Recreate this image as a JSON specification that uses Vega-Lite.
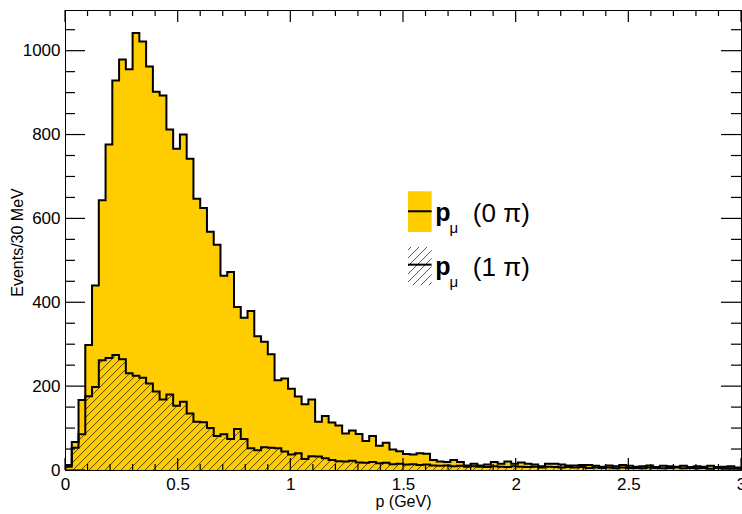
{
  "$schema": "https://vega.github.io/schema/vega-lite/v6.json",
  "width": 676,
  "height": 460,
  "autosize": {"type": "none"},
  "padding": {"left": 65, "top": 10, "right": 1, "bottom": 44},
  "background": "white",
  "config": {"font": "Liberation Sans", "view": {"stroke": "black", "strokeWidth": 1}, "axis": {"grid": false}},
  "datasets": {
    "hist": [
      {"p":0,"n0":12,"n1":8},{"p":0.03,"n0":67,"n1":53},{"p":0.06,"n0":167,"n1":85},{"p":0.09,"n0":298,"n1":176},{"p":0.12,"n0":440,"n1":198},
      {"p":0.15,"n0":643,"n1":262},{"p":0.18,"n0":776,"n1":267},{"p":0.21,"n0":929,"n1":274},{"p":0.24,"n0":979,"n1":264},{"p":0.27,"n0":956,"n1":231},
      {"p":0.3,"n0":1042,"n1":225},{"p":0.33,"n0":1022,"n1":220},{"p":0.36,"n0":962,"n1":206},{"p":0.39,"n0":902,"n1":187},{"p":0.42,"n0":893,"n1":168},
      {"p":0.45,"n0":812,"n1":180},{"p":0.48,"n0":766,"n1":153},{"p":0.51,"n0":800,"n1":163},{"p":0.54,"n0":742,"n1":135},{"p":0.57,"n0":647,"n1":115},
      {"p":0.6,"n0":625,"n1":114},{"p":0.63,"n0":568,"n1":100},{"p":0.66,"n0":537,"n1":81},{"p":0.69,"n0":463,"n1":85},{"p":0.72,"n0":472,"n1":74},
      {"p":0.75,"n0":389,"n1":98},{"p":0.78,"n0":363,"n1":74},{"p":0.81,"n0":379,"n1":52},{"p":0.84,"n0":319,"n1":47},{"p":0.87,"n0":306,"n1":54},
      {"p":0.9,"n0":276,"n1":53},{"p":0.93,"n0":214,"n1":52},{"p":0.96,"n0":218,"n1":44},{"p":0.99,"n0":194,"n1":37},{"p":1.02,"n0":175,"n1":40},
      {"p":1.05,"n0":157,"n1":26},{"p":1.08,"n0":168,"n1":33},{"p":1.11,"n0":115,"n1":32},{"p":1.14,"n0":129,"n1":28},{"p":1.17,"n0":113,"n1":24},
      {"p":1.2,"n0":106,"n1":21},{"p":1.23,"n0":87,"n1":20},{"p":1.26,"n0":94,"n1":22},{"p":1.29,"n0":86,"n1":18},{"p":1.32,"n0":69,"n1":17},
      {"p":1.35,"n0":81,"n1":19},{"p":1.38,"n0":58,"n1":16},{"p":1.41,"n0":65,"n1":17},{"p":1.44,"n0":49,"n1":14},{"p":1.47,"n0":45,"n1":15},
      {"p":1.5,"n0":38,"n1":13},{"p":1.53,"n0":37,"n1":14},{"p":1.56,"n0":40,"n1":12},{"p":1.59,"n0":39,"n1":13},{"p":1.62,"n0":24,"n1":11},
      {"p":1.65,"n0":20,"n1":10},{"p":1.68,"n0":19,"n1":11},{"p":1.71,"n0":24,"n1":9},{"p":1.74,"n0":19,"n1":10},{"p":1.77,"n0":11,"n1":8},
      {"p":1.8,"n0":15,"n1":9},{"p":1.83,"n0":11,"n1":8},{"p":1.86,"n0":13,"n1":7},{"p":1.89,"n0":19,"n1":9},{"p":1.92,"n0":15,"n1":8},
      {"p":1.95,"n0":20,"n1":7},{"p":1.98,"n0":15,"n1":9},{"p":2.01,"n0":18,"n1":8},{"p":2.04,"n0":15,"n1":7},{"p":2.07,"n0":13,"n1":8},
      {"p":2.1,"n0":9,"n1":6},{"p":2.13,"n0":15,"n1":8},{"p":2.16,"n0":15,"n1":7},{"p":2.19,"n0":13,"n1":6},{"p":2.22,"n0":11,"n1":7},
      {"p":2.25,"n0":11,"n1":6},{"p":2.28,"n0":12,"n1":7},{"p":2.31,"n0":12,"n1":5},{"p":2.34,"n0":10,"n1":6},{"p":2.37,"n0":8,"n1":5},
      {"p":2.4,"n0":11,"n1":6},{"p":2.43,"n0":9,"n1":4},{"p":2.46,"n0":12,"n1":6},{"p":2.49,"n0":10,"n1":5},{"p":2.52,"n0":8,"n1":5},
      {"p":2.55,"n0":9,"n1":4},{"p":2.58,"n0":11,"n1":6},{"p":2.61,"n0":7,"n1":5},{"p":2.64,"n0":10,"n1":4},{"p":2.67,"n0":9,"n1":5},
      {"p":2.7,"n0":8,"n1":6},{"p":2.73,"n0":10,"n1":4},{"p":2.76,"n0":7,"n1":5},{"p":2.79,"n0":9,"n1":4},{"p":2.82,"n0":8,"n1":5},
      {"p":2.85,"n0":10,"n1":3},{"p":2.88,"n0":7,"n1":5},{"p":2.91,"n0":8,"n1":4},{"p":2.94,"n0":9,"n1":4},{"p":2.97,"n0":6,"n1":4},
      {"p":3.0,"n0":6,"n1":4}
    ],
    "xmaj": [{"v":0},{"v":0.5},{"v":1},{"v":1.5},{"v":2},{"v":2.5},{"v":3}],
    "xmin": [{"v":0.1},{"v":0.2},{"v":0.3},{"v":0.4},{"v":0.6},{"v":0.7},{"v":0.8},{"v":0.9},{"v":1.1},{"v":1.2},{"v":1.3},{"v":1.4},{"v":1.6},{"v":1.7},{"v":1.8},{"v":1.9},{"v":2.1},{"v":2.2},{"v":2.3},{"v":2.4},{"v":2.6},{"v":2.7},{"v":2.8},{"v":2.9}],
    "ymaj": [{"v":0},{"v":200},{"v":400},{"v":600},{"v":800},{"v":1000}],
    "ymin": [{"v":50},{"v":100},{"v":150},{"v":250},{"v":300},{"v":350},{"v":450},{"v":500},{"v":550},{"v":650},{"v":700},{"v":750},{"v":850},{"v":900},{"v":950},{"v":1050}]
  },
  "data": {"name": "hist"},
  "layer": [
    {
      "mark": {"type": "area", "interpolate": "step-after", "fill": "#ffcc00"},
      "encoding": {
        "x": {"field": "p", "type": "quantitative", "scale": {"domain": [0, 3], "nice": false},
          "axis": {"orient": "bottom", "values": [0, 0.5, 1, 1.5, 2, 2.5, 3], "format": "~g", "ticks": false, "domain": true, "domainColor": "black", "domainWidth": 1,
            "labelFontSize": 17, "labelColor": "black", "labelPadding": 6, "labelFlush": false,
            "title": "p (GeV)", "titleFontSize": 16, "titleFontWeight": "normal", "titleColor": "black", "titleY": 31, "titleBaseline": "middle", "zindex": 1}},
        "y": {"field": "n0", "type": "quantitative", "scale": {"domain": [0, 1097], "nice": false},
          "axis": {"orient": "left", "values": [0, 200, 400, 600, 800, 1000], "format": "d", "ticks": false, "domain": true, "domainColor": "black", "domainWidth": 1,
            "labelFontSize": 17, "labelColor": "black", "labelPadding": 5,
            "title": "Events/30 MeV", "titleFontSize": 16, "titleFontWeight": "normal", "titleColor": "black", "titleX": -48, "titleY": 232, "titleAngle": -90, "titleBaseline": "middle", "zindex": 1}}
      }
    },
    {
      "mark": {"type": "area", "interpolate": "step-after",
        "fill": {"gradient": "linear", "x1": 0, "y1": 0, "x2": 1.1502, "y2": 0.1955, "stops": [
{"offset":0.0025,"color":"#0000"},{"offset":0.00375,"color":"#000a"},{"offset":0.005,"color":"#0000"},
{"offset":0.0125,"color":"#0000"},{"offset":0.01375,"color":"#000a"},{"offset":0.015,"color":"#0000"},
{"offset":0.0225,"color":"#0000"},{"offset":0.02375,"color":"#000a"},{"offset":0.025,"color":"#0000"},
{"offset":0.0325,"color":"#0000"},{"offset":0.03375,"color":"#000a"},{"offset":0.035,"color":"#0000"},
{"offset":0.0425,"color":"#0000"},{"offset":0.04375,"color":"#000a"},{"offset":0.045,"color":"#0000"},
{"offset":0.0525,"color":"#0000"},{"offset":0.05375,"color":"#000a"},{"offset":0.055,"color":"#0000"},
{"offset":0.0625,"color":"#0000"},{"offset":0.06375,"color":"#000a"},{"offset":0.065,"color":"#0000"},
{"offset":0.0725,"color":"#0000"},{"offset":0.07375,"color":"#000a"},{"offset":0.075,"color":"#0000"},
{"offset":0.0825,"color":"#0000"},{"offset":0.08375,"color":"#000a"},{"offset":0.085,"color":"#0000"},
{"offset":0.0925,"color":"#0000"},{"offset":0.09375,"color":"#000a"},{"offset":0.095,"color":"#0000"},
{"offset":0.1025,"color":"#0000"},{"offset":0.10375,"color":"#000a"},{"offset":0.105,"color":"#0000"},
{"offset":0.1125,"color":"#0000"},{"offset":0.11375,"color":"#000a"},{"offset":0.115,"color":"#0000"},
{"offset":0.1225,"color":"#0000"},{"offset":0.12375,"color":"#000a"},{"offset":0.125,"color":"#0000"},
{"offset":0.1325,"color":"#0000"},{"offset":0.13375,"color":"#000a"},{"offset":0.135,"color":"#0000"},
{"offset":0.1425,"color":"#0000"},{"offset":0.14375,"color":"#000a"},{"offset":0.145,"color":"#0000"},
{"offset":0.1525,"color":"#0000"},{"offset":0.15375,"color":"#000a"},{"offset":0.155,"color":"#0000"},
{"offset":0.1625,"color":"#0000"},{"offset":0.16375,"color":"#000a"},{"offset":0.165,"color":"#0000"},
{"offset":0.1725,"color":"#0000"},{"offset":0.17375,"color":"#000a"},{"offset":0.175,"color":"#0000"},
{"offset":0.1825,"color":"#0000"},{"offset":0.18375,"color":"#000a"},{"offset":0.185,"color":"#0000"},
{"offset":0.1925,"color":"#0000"},{"offset":0.19375,"color":"#000a"},{"offset":0.195,"color":"#0000"},
{"offset":0.2025,"color":"#0000"},{"offset":0.20375,"color":"#000a"},{"offset":0.205,"color":"#0000"},
{"offset":0.2125,"color":"#0000"},{"offset":0.21375,"color":"#000a"},{"offset":0.215,"color":"#0000"},
{"offset":0.2225,"color":"#0000"},{"offset":0.22375,"color":"#000a"},{"offset":0.225,"color":"#0000"},
{"offset":0.2325,"color":"#0000"},{"offset":0.23375,"color":"#000a"},{"offset":0.235,"color":"#0000"},
{"offset":0.2425,"color":"#0000"},{"offset":0.24375,"color":"#000a"},{"offset":0.245,"color":"#0000"},
{"offset":0.2525,"color":"#0000"},{"offset":0.25375,"color":"#000a"},{"offset":0.255,"color":"#0000"},
{"offset":0.2625,"color":"#0000"},{"offset":0.26375,"color":"#000a"},{"offset":0.265,"color":"#0000"},
{"offset":0.2725,"color":"#0000"},{"offset":0.27375,"color":"#000a"},{"offset":0.275,"color":"#0000"},
{"offset":0.2825,"color":"#0000"},{"offset":0.28375,"color":"#000a"},{"offset":0.285,"color":"#0000"},
{"offset":0.2925,"color":"#0000"},{"offset":0.29375,"color":"#000a"},{"offset":0.295,"color":"#0000"},
{"offset":0.3025,"color":"#0000"},{"offset":0.30375,"color":"#000a"},{"offset":0.305,"color":"#0000"},
{"offset":0.3125,"color":"#0000"},{"offset":0.31375,"color":"#000a"},{"offset":0.315,"color":"#0000"},
{"offset":0.3225,"color":"#0000"},{"offset":0.32375,"color":"#000a"},{"offset":0.325,"color":"#0000"},
{"offset":0.3325,"color":"#0000"},{"offset":0.33375,"color":"#000a"},{"offset":0.335,"color":"#0000"},
{"offset":0.3425,"color":"#0000"},{"offset":0.34375,"color":"#000a"},{"offset":0.345,"color":"#0000"},
{"offset":0.3525,"color":"#0000"},{"offset":0.35375,"color":"#000a"},{"offset":0.355,"color":"#0000"},
{"offset":0.3625,"color":"#0000"},{"offset":0.36375,"color":"#000a"},{"offset":0.365,"color":"#0000"},
{"offset":0.3725,"color":"#0000"},{"offset":0.37375,"color":"#000a"},{"offset":0.375,"color":"#0000"},
{"offset":0.3825,"color":"#0000"},{"offset":0.38375,"color":"#000a"},{"offset":0.385,"color":"#0000"},
{"offset":0.3925,"color":"#0000"},{"offset":0.39375,"color":"#000a"},{"offset":0.395,"color":"#0000"},
{"offset":0.4025,"color":"#0000"},{"offset":0.40375,"color":"#000a"},{"offset":0.405,"color":"#0000"},
{"offset":0.4125,"color":"#0000"},{"offset":0.41375,"color":"#000a"},{"offset":0.415,"color":"#0000"},
{"offset":0.4225,"color":"#0000"},{"offset":0.42375,"color":"#000a"},{"offset":0.425,"color":"#0000"},
{"offset":0.4325,"color":"#0000"},{"offset":0.43375,"color":"#000a"},{"offset":0.435,"color":"#0000"},
{"offset":0.4425,"color":"#0000"},{"offset":0.44375,"color":"#000a"},{"offset":0.445,"color":"#0000"},
{"offset":0.4525,"color":"#0000"},{"offset":0.45375,"color":"#000a"},{"offset":0.455,"color":"#0000"},
{"offset":0.4625,"color":"#0000"},{"offset":0.46375,"color":"#000a"},{"offset":0.465,"color":"#0000"},
{"offset":0.4725,"color":"#0000"},{"offset":0.47375,"color":"#000a"},{"offset":0.475,"color":"#0000"},
{"offset":0.4825,"color":"#0000"},{"offset":0.48375,"color":"#000a"},{"offset":0.485,"color":"#0000"},
{"offset":0.4925,"color":"#0000"},{"offset":0.49375,"color":"#000a"},{"offset":0.495,"color":"#0000"},
{"offset":0.5025,"color":"#0000"},{"offset":0.50375,"color":"#000a"},{"offset":0.505,"color":"#0000"},
{"offset":0.5125,"color":"#0000"},{"offset":0.51375,"color":"#000a"},{"offset":0.515,"color":"#0000"},
{"offset":0.5225,"color":"#0000"},{"offset":0.52375,"color":"#000a"},{"offset":0.525,"color":"#0000"},
{"offset":0.5325,"color":"#0000"},{"offset":0.53375,"color":"#000a"},{"offset":0.535,"color":"#0000"},
{"offset":0.5425,"color":"#0000"},{"offset":0.54375,"color":"#000a"},{"offset":0.545,"color":"#0000"},
{"offset":0.5525,"color":"#0000"},{"offset":0.55375,"color":"#000a"},{"offset":0.555,"color":"#0000"},
{"offset":0.5625,"color":"#0000"},{"offset":0.56375,"color":"#000a"},{"offset":0.565,"color":"#0000"},
{"offset":0.5725,"color":"#0000"},{"offset":0.57375,"color":"#000a"},{"offset":0.575,"color":"#0000"},
{"offset":0.5825,"color":"#0000"},{"offset":0.58375,"color":"#000a"},{"offset":0.585,"color":"#0000"},
{"offset":0.5925,"color":"#0000"},{"offset":0.59375,"color":"#000a"},{"offset":0.595,"color":"#0000"},
{"offset":0.6025,"color":"#0000"},{"offset":0.60375,"color":"#000a"},{"offset":0.605,"color":"#0000"},
{"offset":0.6125,"color":"#0000"},{"offset":0.61375,"color":"#000a"},{"offset":0.615,"color":"#0000"},
{"offset":0.6225,"color":"#0000"},{"offset":0.62375,"color":"#000a"},{"offset":0.625,"color":"#0000"},
{"offset":0.6325,"color":"#0000"},{"offset":0.63375,"color":"#000a"},{"offset":0.635,"color":"#0000"},
{"offset":0.6425,"color":"#0000"},{"offset":0.64375,"color":"#000a"},{"offset":0.645,"color":"#0000"},
{"offset":0.6525,"color":"#0000"},{"offset":0.65375,"color":"#000a"},{"offset":0.655,"color":"#0000"},
{"offset":0.6625,"color":"#0000"},{"offset":0.66375,"color":"#000a"},{"offset":0.665,"color":"#0000"},
{"offset":0.6725,"color":"#0000"},{"offset":0.67375,"color":"#000a"},{"offset":0.675,"color":"#0000"},
{"offset":0.6825,"color":"#0000"},{"offset":0.68375,"color":"#000a"},{"offset":0.685,"color":"#0000"},
{"offset":0.6925,"color":"#0000"},{"offset":0.69375,"color":"#000a"},{"offset":0.695,"color":"#0000"},
{"offset":0.7025,"color":"#0000"},{"offset":0.70375,"color":"#000a"},{"offset":0.705,"color":"#0000"},
{"offset":0.7125,"color":"#0000"},{"offset":0.71375,"color":"#000a"},{"offset":0.715,"color":"#0000"},
{"offset":0.7225,"color":"#0000"},{"offset":0.72375,"color":"#000a"},{"offset":0.725,"color":"#0000"},
{"offset":0.7325,"color":"#0000"},{"offset":0.73375,"color":"#000a"},{"offset":0.735,"color":"#0000"},
{"offset":0.7425,"color":"#0000"},{"offset":0.74375,"color":"#000a"},{"offset":0.745,"color":"#0000"},
{"offset":0.7525,"color":"#0000"},{"offset":0.75375,"color":"#000a"},{"offset":0.755,"color":"#0000"},
{"offset":0.7625,"color":"#0000"},{"offset":0.76375,"color":"#000a"},{"offset":0.765,"color":"#0000"},
{"offset":0.7725,"color":"#0000"},{"offset":0.77375,"color":"#000a"},{"offset":0.775,"color":"#0000"},
{"offset":0.7825,"color":"#0000"},{"offset":0.78375,"color":"#000a"},{"offset":0.785,"color":"#0000"},
{"offset":0.7925,"color":"#0000"},{"offset":0.79375,"color":"#000a"},{"offset":0.795,"color":"#0000"},
{"offset":0.8025,"color":"#0000"},{"offset":0.80375,"color":"#000a"},{"offset":0.805,"color":"#0000"},
{"offset":0.8125,"color":"#0000"},{"offset":0.81375,"color":"#000a"},{"offset":0.815,"color":"#0000"},
{"offset":0.8225,"color":"#0000"},{"offset":0.82375,"color":"#000a"},{"offset":0.825,"color":"#0000"},
{"offset":0.8325,"color":"#0000"},{"offset":0.83375,"color":"#000a"},{"offset":0.835,"color":"#0000"},
{"offset":0.8425,"color":"#0000"},{"offset":0.84375,"color":"#000a"},{"offset":0.845,"color":"#0000"},
{"offset":0.8525,"color":"#0000"},{"offset":0.85375,"color":"#000a"},{"offset":0.855,"color":"#0000"},
{"offset":0.8625,"color":"#0000"},{"offset":0.86375,"color":"#000a"},{"offset":0.865,"color":"#0000"},
{"offset":0.8725,"color":"#0000"},{"offset":0.87375,"color":"#000a"},{"offset":0.875,"color":"#0000"},
{"offset":0.8825,"color":"#0000"},{"offset":0.88375,"color":"#000a"},{"offset":0.885,"color":"#0000"},
{"offset":0.8925,"color":"#0000"},{"offset":0.89375,"color":"#000a"},{"offset":0.895,"color":"#0000"},
{"offset":0.9025,"color":"#0000"},{"offset":0.90375,"color":"#000a"},{"offset":0.905,"color":"#0000"},
{"offset":0.9125,"color":"#0000"},{"offset":0.91375,"color":"#000a"},{"offset":0.915,"color":"#0000"},
{"offset":0.9225,"color":"#0000"},{"offset":0.92375,"color":"#000a"},{"offset":0.925,"color":"#0000"},
{"offset":0.9325,"color":"#0000"},{"offset":0.93375,"color":"#000a"},{"offset":0.935,"color":"#0000"},
{"offset":0.9425,"color":"#0000"},{"offset":0.94375,"color":"#000a"},{"offset":0.945,"color":"#0000"},
{"offset":0.9525,"color":"#0000"},{"offset":0.95375,"color":"#000a"},{"offset":0.955,"color":"#0000"},
{"offset":0.9625,"color":"#0000"},{"offset":0.96375,"color":"#000a"},{"offset":0.965,"color":"#0000"},
{"offset":0.9725,"color":"#0000"},{"offset":0.97375,"color":"#000a"},{"offset":0.975,"color":"#0000"},
{"offset":0.9825,"color":"#0000"},{"offset":0.98375,"color":"#000a"},{"offset":0.985,"color":"#0000"},
{"offset":0.9925,"color":"#0000"},{"offset":0.99375,"color":"#000a"},{"offset":0.995,"color":"#0000"}
        ]}},
      "encoding": {
        "x": {"field": "p", "type": "quantitative"},
        "y": {"field": "n1", "type": "quantitative"}
      }
    },
    {
      "mark": {"type": "line", "interpolate": "step-after", "stroke": "black", "strokeWidth": 2},
      "encoding": {
        "x": {"field": "p", "type": "quantitative"},
        "y": {"field": "n0", "type": "quantitative"}
      }
    },
    {
      "mark": {"type": "line", "interpolate": "step-after", "stroke": "black", "strokeWidth": 2},
      "encoding": {
        "x": {"field": "p", "type": "quantitative"},
        "y": {"field": "n1", "type": "quantitative"}
      }
    },
    {
      "data": {"name": "xmaj"},
      "mark": {"type": "rule", "stroke": "black", "strokeWidth": 1.2},
      "encoding": {
        "x": {"field": "v", "type": "quantitative"},
        "y": {"datum": 0, "type": "quantitative"},
        "y2": {"datum": 28.6}
      }
    },
    {
      "data": {"name": "xmaj"},
      "mark": {"type": "rule", "stroke": "black", "strokeWidth": 1.2},
      "encoding": {
        "x": {"field": "v", "type": "quantitative"},
        "y": {"datum": 1097, "type": "quantitative"},
        "y2": {"datum": 1068.4}
      }
    },
    {
      "data": {"name": "xmin"},
      "mark": {"type": "rule", "stroke": "black", "strokeWidth": 1.2},
      "encoding": {
        "x": {"field": "v", "type": "quantitative"},
        "y": {"datum": 0, "type": "quantitative"},
        "y2": {"datum": 14.3}
      }
    },
    {
      "data": {"name": "xmin"},
      "mark": {"type": "rule", "stroke": "black", "strokeWidth": 1.2},
      "encoding": {
        "x": {"field": "v", "type": "quantitative"},
        "y": {"datum": 1097, "type": "quantitative"},
        "y2": {"datum": 1082.7}
      }
    },
    {
      "data": {"name": "ymaj"},
      "mark": {"type": "rule", "stroke": "black", "strokeWidth": 1.2},
      "encoding": {
        "y": {"field": "v", "type": "quantitative"},
        "x": {"datum": 0, "type": "quantitative"},
        "x2": {"datum": 0.0888}
      }
    },
    {
      "data": {"name": "ymaj"},
      "mark": {"type": "rule", "stroke": "black", "strokeWidth": 1.2},
      "encoding": {
        "y": {"field": "v", "type": "quantitative"},
        "x": {"datum": 3, "type": "quantitative"},
        "x2": {"datum": 2.9112}
      }
    },
    {
      "data": {"name": "ymin"},
      "mark": {"type": "rule", "stroke": "black", "strokeWidth": 1.2},
      "encoding": {
        "y": {"field": "v", "type": "quantitative"},
        "x": {"datum": 0, "type": "quantitative"},
        "x2": {"datum": 0.0444}
      }
    },
    {
      "data": {"name": "ymin"},
      "mark": {"type": "rule", "stroke": "black", "strokeWidth": 1.2},
      "encoding": {
        "y": {"field": "v", "type": "quantitative"},
        "x": {"datum": 3, "type": "quantitative"},
        "x2": {"datum": 2.9556}
      }
    },
    {
      "data": {"values": [{}]},
      "mark": {"type": "rect", "fill": "#ffcc00"},
      "encoding": {
        "x": {"datum": 1.522, "type": "quantitative"},
        "x2": {"datum": 1.627},
        "y": {"datum": 567.5, "type": "quantitative"},
        "y2": {"datum": 664.7}
      }
    },
    {
      "data": {"values": [{}]},
      "mark": {"type": "rect",
        "fill": {"gradient": "linear", "x1": 0, "y1": 0, "x2": 0.747, "y2": 1.21, "stops": [
          {"offset":0.03125,"color":"#0000"},{"offset":0.046875,"color":"#000a"},{"offset":0.0625,"color":"#0000"},
          {"offset":0.15625,"color":"#0000"},{"offset":0.171875,"color":"#000a"},{"offset":0.1875,"color":"#0000"},
          {"offset":0.28125,"color":"#0000"},{"offset":0.296875,"color":"#000a"},{"offset":0.3125,"color":"#0000"},
          {"offset":0.40625,"color":"#0000"},{"offset":0.421875,"color":"#000a"},{"offset":0.4375,"color":"#0000"},
          {"offset":0.53125,"color":"#0000"},{"offset":0.546875,"color":"#000a"},{"offset":0.5625,"color":"#0000"},
          {"offset":0.65625,"color":"#0000"},{"offset":0.671875,"color":"#000a"},{"offset":0.6875,"color":"#0000"},
          {"offset":0.78125,"color":"#0000"},{"offset":0.796875,"color":"#000a"},{"offset":0.8125,"color":"#0000"},
          {"offset":0.90625,"color":"#0000"},{"offset":0.921875,"color":"#000a"},{"offset":0.9375,"color":"#0000"}
        ]}},
      "encoding": {
        "x": {"datum": 1.522, "type": "quantitative"},
        "x2": {"datum": 1.627},
        "y": {"datum": 440.3, "type": "quantitative"},
        "y2": {"datum": 531.7}
      }
    },
    {
      "data": {"values": [{}]},
      "mark": {"type": "rule", "stroke": "black", "strokeWidth": 2},
      "encoding": {
        "x": {"datum": 1.522, "type": "quantitative"},
        "x2": {"datum": 1.627},
        "y": {"datum": 617, "type": "quantitative"}
      }
    },
    {
      "data": {"values": [{}]},
      "mark": {"type": "rule", "stroke": "black", "strokeWidth": 2},
      "encoding": {
        "x": {"datum": 1.522, "type": "quantitative"},
        "x2": {"datum": 1.627},
        "y": {"datum": 489.7, "type": "quantitative"}
      }
    },
    {
      "data": {"values": [{}]},
      "mark": {"type": "text", "text": "p", "fontSize": 25, "fontWeight": "bold", "align": "left", "baseline": "alphabetic", "color": "black"},
      "encoding": {
        "x": {"datum": 1.643, "type": "quantitative"},
        "y": {"datum": 594, "type": "quantitative"}
      }
    },
    {
      "data": {"values": [{}]},
      "mark": {"type": "text", "text": "p", "fontSize": 25, "fontWeight": "bold", "align": "left", "baseline": "alphabetic", "color": "black"},
      "encoding": {
        "x": {"datum": 1.643, "type": "quantitative"},
        "y": {"datum": 464, "type": "quantitative"}
      }
    },
    {
      "data": {"values": [{}]},
      "mark": {"type": "text", "text": "μ", "fontSize": 15, "align": "left", "baseline": "alphabetic", "color": "black"},
      "encoding": {
        "x": {"datum": 1.706, "type": "quantitative"},
        "y": {"datum": 566, "type": "quantitative"}
      }
    },
    {
      "data": {"values": [{}]},
      "mark": {"type": "text", "text": "μ", "fontSize": 15, "align": "left", "baseline": "alphabetic", "color": "black"},
      "encoding": {
        "x": {"datum": 1.706, "type": "quantitative"},
        "y": {"datum": 436, "type": "quantitative"}
      }
    },
    {
      "data": {"values": [{}]},
      "mark": {"type": "text", "text": "(0 π)", "fontSize": 26, "align": "left", "baseline": "alphabetic", "color": "black"},
      "encoding": {
        "x": {"datum": 1.81, "type": "quantitative"},
        "y": {"datum": 592, "type": "quantitative"}
      }
    },
    {
      "data": {"values": [{}]},
      "mark": {"type": "text", "text": "(1 π)", "fontSize": 26, "align": "left", "baseline": "alphabetic", "color": "black"},
      "encoding": {
        "x": {"datum": 1.81, "type": "quantitative"},
        "y": {"datum": 462, "type": "quantitative"}
      }
    }
  ]
}
